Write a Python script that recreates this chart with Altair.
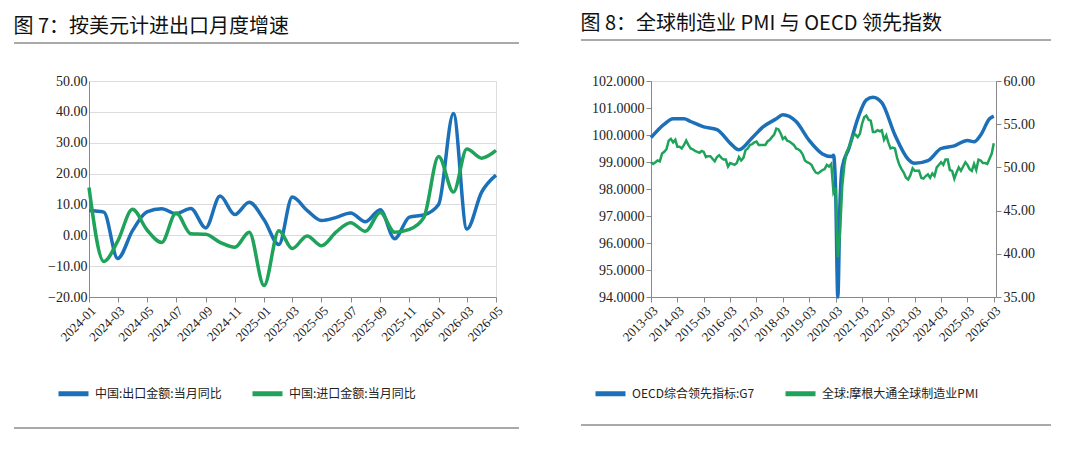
import altair as alt
import pandas as pd

FONT = "Noto Sans CJK SC"
BLUE = "#1b70b8"
GREEN = "#1fa35a"

# ---- Figure 7 data
months7 = pd.date_range("2024-01-01", "2026-05-01", freq="MS")
export_yoy = [8.0, 7.5, -7.5, 1.5, 7.6, 8.6, 7.0, 8.7, 2.4, 12.7, 6.7, 10.7,
              5.0, -3.0, 12.4, 8.1, 4.8, 5.8, 7.2, 4.4, 8.3, -1.1, 5.9, 6.6,
              10.0, 39.5, 2.0, 14.0, 19.5]
import_yoy = [15.5, -8.5, -1.9, 8.4, 1.8, -2.3, 7.2, 0.5, 0.3, -2.3, -3.9, 1.0,
              -16.3, 1.5, -4.3, -0.2, -3.4, 1.1, 4.1, 1.3, 7.4, 1.0, 1.9, 5.7,
              25.5, 14.0, 28.0, 25.0, 27.5]
s7 = ["中国:出口金额:当月同比", "中国:进口金额:当月同比"]

# ---- Figure 8 data
months_pmi = pd.date_range("2013-03-01", "2026-03-01", freq="MS")
pmi = [50.6,50.4,50.6,50.8,50.7,51.6,51.8,52.1,53.1,53.3,
       52.9,53.2,52.4,52.4,52.2,52.6,53.1,52.6,52.2,52.1,51.9,51.8,
       51.7,51.9,51.8,51.2,51.3,51.3,51.0,50.7,51.2,51.4,51.1,50.9,
       50.9,50.1,50.5,50.4,50.3,50.5,51.2,50.8,51.1,52.0,52.2,52.6,
       52.7,52.9,53.0,52.6,52.6,52.6,52.6,53.0,53.2,53.5,53.8,54.5,
       54.4,53.9,53.3,53.5,53.1,53.0,52.8,52.6,52.2,52.1,51.9,51.5,
       50.8,50.6,50.5,50.3,49.8,49.4,49.3,49.5,49.7,49.8,50.3,50.1,
       50.4,47.1,47.6,39.6,42.4,47.8,50.3,51.8,52.3,53.0,53.7,53.8,
       53.5,53.9,55.0,55.8,56.0,55.5,55.4,54.1,54.1,54.3,54.2,54.3,
       53.2,53.7,52.9,52.2,52.3,52.2,51.1,50.3,49.8,49.4,48.8,48.6,
       49.1,49.9,49.6,49.6,49.6,48.8,48.7,49.0,49.2,48.8,49.3,49.0,
       50.0,50.3,50.6,50.3,50.9,50.9,49.7,49.6,48.7,49.4,50.0,49.6,
       50.1,50.6,50.3,49.8,49.6,50.4,49.7,50.9,50.8,50.5,50.5,50.4,
       51.0,51.6,52.8]
oecd_dates = ["2013-03","2013-09","2014-01","2014-06","2014-09","2015-03","2015-09",
              "2016-03","2016-07","2017-01","2017-06","2017-12","2018-03","2018-09",
              "2019-03","2019-09","2020-01","2020-02","2020-03","2020-04","2020-05",
              "2020-06","2020-09","2021-01","2021-05","2021-08","2021-12","2022-06",
              "2022-12","2023-03","2023-09","2024-03","2024-09","2025-03","2025-06",
              "2025-09","2026-01","2026-03"]
oecd_vals = [99.9,100.4,100.6,100.6,100.5,100.3,100.2,99.7,99.45,99.9,100.3,100.6,
             100.75,100.5,99.8,99.3,99.2,99.25,98.0,94.0,97.5,98.8,99.5,100.6,
             101.3,101.4,101.2,100.0,99.1,98.95,99.05,99.5,99.6,99.8,99.75,100.0,
             100.6,100.7]
s8 = ["OECD综合领先指标:G7", "全球:摩根大通全球制造业PMI"]

d7 = pd.concat([
    pd.DataFrame({"date": months7, "value": export_yoy, "series": s7[0]}),
    pd.DataFrame({"date": months7, "value": import_yoy, "series": s7[1]}),
])
d_pmi = pd.DataFrame({"date": months_pmi, "value": pmi, "series": s8[1]})
d_oecd = pd.DataFrame({"date": pd.to_datetime(oecd_dates), "value": oecd_vals, "series": s8[0]})

axis_common = dict(labelFont="Times New Roman", labelFontSize=14, labelColor="#222",
                   domainColor="#888", tickColor="#888")
legend_common = dict(orient="none", direction="horizontal", title=None, symbolType="stroke",
                     symbolStrokeWidth=5, symbolSize=900, labelFont=FONT, labelFontSize=12,
                     labelColor="#222", columnPadding=20)

def xaxis(vals):
    return alt.Axis(values=vals, format="%Y-%m", labelAngle=-45, grid=False, labelOverlap=False,
                    labelFont="Times New Roman", labelFontSize=13, labelColor="#222",
                    domainColor="#888", tickColor="#888", labelAlign="right", labelBaseline="top",
                    labelPadding=2)

ticks7 = [d.isoformat() for d in pd.date_range("2024-01-01", "2026-05-01", freq="2MS")]
x7 = alt.X("date:T", title=None, scale=alt.Scale(domain=[months7[0].isoformat(), months7[-1].isoformat()]),
           axis=xaxis(ticks7))
y7 = alt.Y("value:Q", title=None, scale=alt.Scale(domain=[-20, 50], nice=False),
           axis=alt.Axis(values=list(range(-20, 51, 10)), format=".2f", grid=True, gridColor="#dcdcdc",
                         ticks=False, **axis_common))
c7 = alt.Chart(d7).mark_line(strokeWidth=3.5, interpolate="monotone").encode(
    x=x7, y=y7,
    color=alt.Color("series:N", scale=alt.Scale(domain=s7, range=[BLUE, GREEN]),
                    legend=alt.Legend(legendX=-33, legendY=295, **legend_common)),
)
rule = alt.Chart(pd.DataFrame({"a": [0]})).mark_rule(color="#555", strokeWidth=1)
top7 = rule.encode(x=alt.value(-75), x2=alt.value(430), y=alt.value(-38))
bot7 = rule.encode(x=alt.value(-75), x2=alt.value(430), y=alt.value(347))
left = alt.layer(c7, top7, bot7).properties(width=407, height=216, title=alt.TitleParams(
    "图 7：按美元计进出口月度增速", anchor="start", font=FONT, fontSize=20, fontWeight="normal",
    color="#111", offset=6))

ticks8 = [d.isoformat() for d in pd.date_range("2013-03-01", "2026-03-01", freq="12MS")]
x8 = alt.X("date:T", title=None, scale=alt.Scale(domain=["2013-03-01", "2026-04-01"]),
           axis=xaxis(ticks8))
color8 = alt.Color("series:N", scale=alt.Scale(domain=s8, range=[BLUE, GREEN]),
                   legend=alt.Legend(legendX=-58, legendY=295, **legend_common))
pmi_line = alt.Chart(d_pmi).mark_line(strokeWidth=2.5).encode(
    x=x8,
    y=alt.Y("value:Q", title=None, scale=alt.Scale(domain=[35, 60], nice=False),
            axis=alt.Axis(orient="right", values=list(range(35, 61, 5)), format=".2f", grid=False,
                          **axis_common)),
    color=color8)
oecd_line = alt.Chart(d_oecd).mark_line(strokeWidth=3.5, interpolate="monotone").encode(
    x=x8,
    y=alt.Y("value:Q", title=None, scale=alt.Scale(domain=[94, 102], nice=False),
            axis=alt.Axis(orient="left", values=list(range(94, 103)), format=".4f", grid=False,
                          **axis_common)),
    color=color8)
top8 = rule.encode(x=alt.value(-70), x2=alt.value(400), y=alt.value(-41))
bot8 = rule.encode(x=alt.value(-70), x2=alt.value(400), y=alt.value(344))
right = alt.layer(oecd_line, pmi_line, top8, bot8).resolve_scale(y="independent").properties(
    width=345, height=216, title=alt.TitleParams(
        "图 8：全球制造业 PMI 与 OECD 领先指数", anchor="start", font=FONT, fontSize=20,
        fontWeight="normal", color="#111", offset=6))

chart = alt.hconcat(left, right, spacing=60).resolve_scale(color="independent").configure_view(
    stroke=None).configure(background="white", padding={"left": 5, "top": 5, "right": 5, "bottom": 5})

chart.save("out.html", embed_options={"renderer": "svg", "actions": False})
